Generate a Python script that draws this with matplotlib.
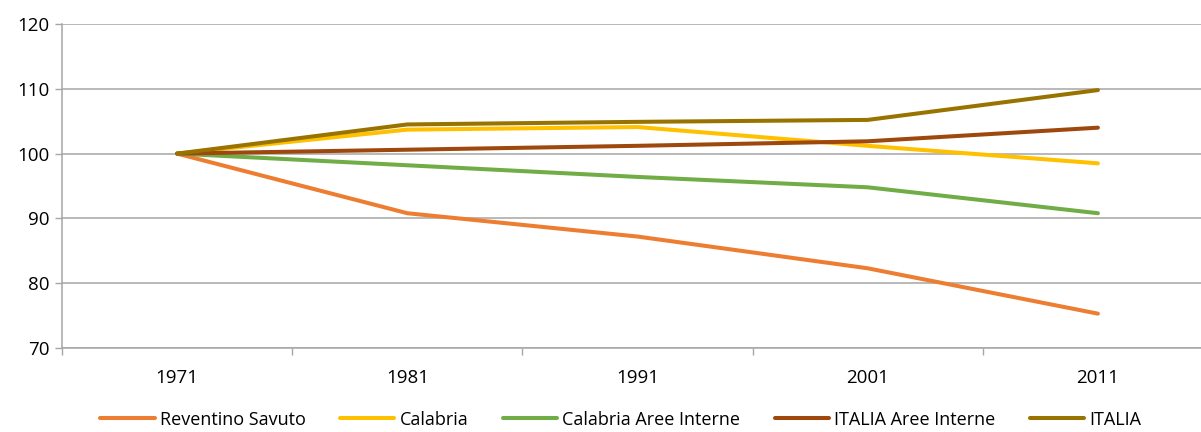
import matplotlib
matplotlib.use("Agg")
import matplotlib.pyplot as plt
import numpy as np

years = ["1971", "1981", "1991", "2001", "2011"]

reventino_savuto = [100, 90.8, 87.2, 82.3, 75.3]
calabria = [100, 103.7, 104.1, 101.2, 98.5]
calabria_aree_interne = [100, 98.2, 96.4, 94.8, 90.8]
italia_aree_interne = [100, 100.6, 101.2, 101.9, 104.0]
italia = [100, 104.5, 104.9, 105.2, 109.8]

series = [
    ("Reventino Savuto", reventino_savuto, "#ED7D31"),
    ("Calabria", calabria, "#FFC000"),
    ("Calabria Aree Interne", calabria_aree_interne, "#70AD47"),
    ("ITALIA Aree Interne", italia_aree_interne, "#9E480E"),
    ("ITALIA", italia, "#997300"),
]

plt.rcParams["font.family"] = ["Open Sans", "DejaVu Sans"]

fig = plt.figure(figsize=(12.01, 4.32), dpi=100)
# plot area runs past the right edge of the canvas
ax = fig.add_axes([62 / 1201, 1 - 348 / 432, 1151 / 1201, 324 / 432])

x = np.arange(len(years))
for name, vals, color in series:
    ax.plot(x, vals, color=color, lw=2.9, label=name, solid_capstyle="round", zorder=3)

ax.set_xlim(-0.5, len(years) - 0.5)
ax.set_ylim(70, 120)
ax.set_yticks([70, 80, 90, 100, 110, 120])
ax.set_xticks(x)
ax.set_xticklabels(years)
ax.set_xticks(np.arange(len(years) + 1) - 0.5, minor=True)
ax.tick_params(axis="x", which="major", length=0, pad=15, labelsize=13.5)
ax.tick_params(axis="x", which="minor", length=5, color="#A6A6A6", width=1)
ax.tick_params(axis="y", length=5, color="#A6A6A6", width=1, labelsize=13.5, pad=4)

ax.yaxis.grid(True, color="#A6A6A6", lw=1.1, zorder=0)
for s in ["top", "right"]:
    ax.spines[s].set_visible(False)
for s in ["left", "bottom"]:
    ax.spines[s].set_color("#A6A6A6")
    ax.spines[s].set_linewidth(1.1)

fig.legend(
    loc="lower center",
    bbox_to_anchor=(0.517, -0.03),
    ncol=5,
    frameon=False,
    fontsize=13,
    handlelength=3.0,
    handletextpad=0.3,
    columnspacing=1.9,
)

fig.savefig("out.png", dpi=100, facecolor="white")
